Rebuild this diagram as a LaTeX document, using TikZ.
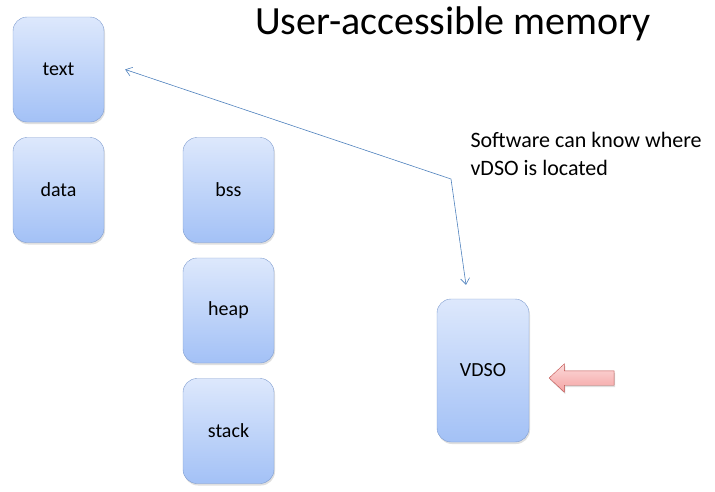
\documentclass[tikz,border=0pt]{standalone}
\usepackage{fontspec}
\setmainfont{Carlito}
\usetikzlibrary{arrows.meta,shapes.arrows,shadows}
\definecolor{boxtop}{HTML}{DDE8FC}
\definecolor{boxbot}{HTML}{A3C1F6}
\definecolor{boxline}{HTML}{7E9CCF}
\definecolor{linkblue}{HTML}{4F81BD}
\definecolor{pinktop}{HTML}{FCD9D9}
\definecolor{pinkbot}{HTML}{F4A3A3}
\definecolor{pinkline}{HTML}{C0504D}
\begin{document}
\begin{tikzpicture}[x=1pt,y=-1pt,
    membox/.style={draw=boxline,rounded corners=14pt,top color=boxtop,bottom color=boxbot,
      minimum width=91pt,minimum height=105pt,font=\fontsize{20}{24}\selectfont,
      drop shadow={opacity=0.25,shadow xshift=1pt,shadow yshift=-2pt}},
    link/.style={linkblue,line width=0.6pt,{Straight Barb[length=6pt,width=9pt]}-{Straight Barb[length=6pt,width=9pt]}}]
    \useasboundingbox (0,0) rectangle (715,491);
    \node (title) at (453,24) {\fontsize{40}{48}\selectfont User-accessible memory};
    \node[membox] (text) at (58.5,69.5) {text};
    \node[membox] (data) at (58.5,190) {data};
    \node[membox] (bss) at (228.5,190) {bss};
    \node[membox] (heap) at (228.5,310.5) {heap};
    \node[membox] (stack) at (228.5,431) {stack};
    \node[membox,minimum width=92pt,minimum height=143pt] (vdso) at (483,370.5) {VDSO};
    \node[anchor=west,align=left,font=\fontsize{22}{28}\selectfont] (note) at (467,154) {Software can know where\\vDSO is located};
    \node[single arrow,shape border rotate=180,draw=pinkline,top color=pinktop,bottom color=pinkbot,
      minimum height=65pt,minimum width=14pt,inner sep=7pt,single arrow head extend=7pt,single arrow tip angle=86,
      drop shadow={opacity=0.25,shadow xshift=1pt,shadow yshift=-2pt}] (pointer) at (585.5,378) {};
    \coordinate (bend) at (451,179);
    \draw[link] ([xshift=21pt]text.east) -- (bend) -- ([xshift=-17pt,yshift=14pt]vdso.north);
\end{tikzpicture}
\end{document}
